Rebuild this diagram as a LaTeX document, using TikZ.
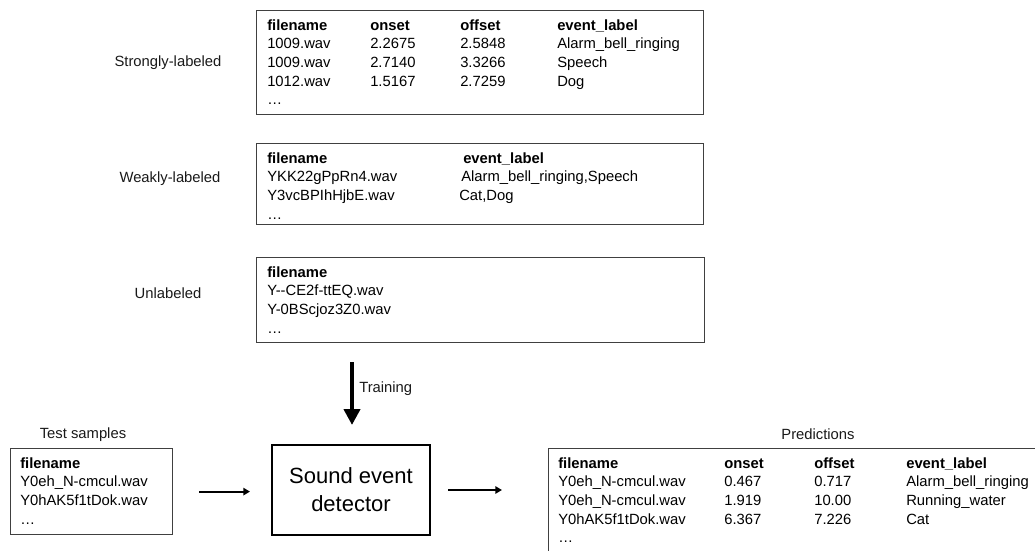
\documentclass[tikz,border=0pt]{standalone}
\usepackage{fontspec}
\setmainfont{Liberation Sans}
\usepackage{array}
\usetikzlibrary{arrows.meta}
\setlength\tabcolsep{0pt}
\tikzstyle{tbl}=[draw=black!75,line width=0.9pt,anchor=north west,inner sep=0pt]
\tikzstyle{txt}=[anchor=base west,inner sep=0pt,align=left]
\tikzstyle{lbl}=[inner sep=0pt,text=black!90]
\tikzstyle{arr}=[-{Triangle[length=5pt,width=5.5pt]},line width=1.5pt]
\tikzstyle{bigarr}=[-{Triangle[length=12pt,width=12pt]},line width=3pt]
\newcommand\hd[1]{\textbf{#1}}

\begin{document}
\begin{tikzpicture}[x=0.75pt,y={(0,-0.75pt)},font=\fontsize{11.1}{14}\selectfont]
\useasboundingbox (0,0) rectangle (1035,550);
\clip (0,0) rectangle (1035,550);
% training data
\node[lbl] (stronglbl) at (168,63) {Strongly-labeled};
\node[tbl,minimum width=335.25pt,minimum height=78pt] (strong) at (256,10) {};
\node[txt] (strongtxt) at (267,30) {\begin{tabular}[t]{@{}w{l}{77.25pt}w{l}{67.5pt}w{l}{72.75pt}l@{}}
\hd{filename} & \hd{onset} & \hd{offset} & \hd{event\_label}\\
1009.wav & 2.2675 & 2.5848 & Alarm\_bell\_ringing\\
1009.wav & 2.7140 & 3.3266 & Speech\\
1012.wav & 1.5167 & 2.7259 & Dog\\
\dots
\end{tabular}};
\node[lbl] (weaklbl) at (170,179) {Weakly-labeled};
\node[tbl,minimum width=335.25pt,minimum height=60.75pt] (weak) at (256,143) {};
\node[txt] (weaktxt) at (267,163) {\begin{tabular}[t]{@{}w{l}{145.5pt}l@{}}
\hd{filename} & \kern1.5pt\hd{event\_label}\\
YKK22gPpRn4.wav & Alarm\_bell\_ringing,Speech\\
Y3vcBPIhHjbE.wav & \kern-1.5pt Cat,Dog\\
\dots
\end{tabular}};
\node[lbl] (unlablbl) at (168,293) {Unlabeled};
\node[tbl,minimum width=336pt,minimum height=63.75pt] (unlab) at (256,257) {};
\node[txt] (unlabtxt) at (267,277) {\begin{tabular}[t]{@{}l@{}}
\hd{filename}\\
Y-{}-CE2f-ttEQ.wav\\
Y-0BScjoz3Z0.wav\\
\dots
\end{tabular}};
% detector
\node[draw,line width=1.5pt,minimum width=118.5pt,minimum height=67.5pt,align=center,
  font=\fontsize{16.5}{21}\selectfont] (det) at (351,490) {Sound event\\detector};
\coordinate (trainstart) at (352,362);
\draw[bigarr,shorten >=14.25pt] (trainstart) -- (trainstart |- det.north);
\node[lbl,anchor=west] (train) at (359,389) {Training};
% test samples
\node[lbl] (testlbl) at (83,435) {Test samples};
\node[tbl,minimum width=121.5pt,minimum height=64.5pt] (test) at (10,448) {};
\node[txt] (testtxt) at (20,468) {\begin{tabular}[t]{@{}l@{}}
\hd{filename}\\
Y0eh\_N-cmcul.wav\\
Y0hAK5f1tDok.wav\\
\dots
\end{tabular}};
% predictions
\node[lbl] (predlbl) at (818,434) {Predictions};
\node[tbl,minimum width=375pt,minimum height=82.5pt] (pred) at (548,448) {};
\node[txt] (predtxt) at (558,468) {\begin{tabular}[t]{@{}w{l}{124.5pt}w{l}{67.5pt}w{l}{69pt}l@{}}
\hd{filename} & \hd{onset} & \hd{offset} & \hd{event\_label}\\
Y0eh\_N-cmcul.wav & 0.467 & 0.717 & Alarm\_bell\_ringing\\
Y0eh\_N-cmcul.wav & 1.919 & 10.00 & Running\_water\\
Y0hAK5f1tDok.wav & 6.367 & 7.226 & Cat\\
\dots
\end{tabular}};
\draw[arr,shorten <=19.5pt,shorten >=15.75pt] (test.east) -- (test.east -| det.west);
\draw[arr,shorten <=12.75pt,shorten >=34.5pt] (det.east) -- (det.east -| pred.west);
\end{tikzpicture}
\end{document}
